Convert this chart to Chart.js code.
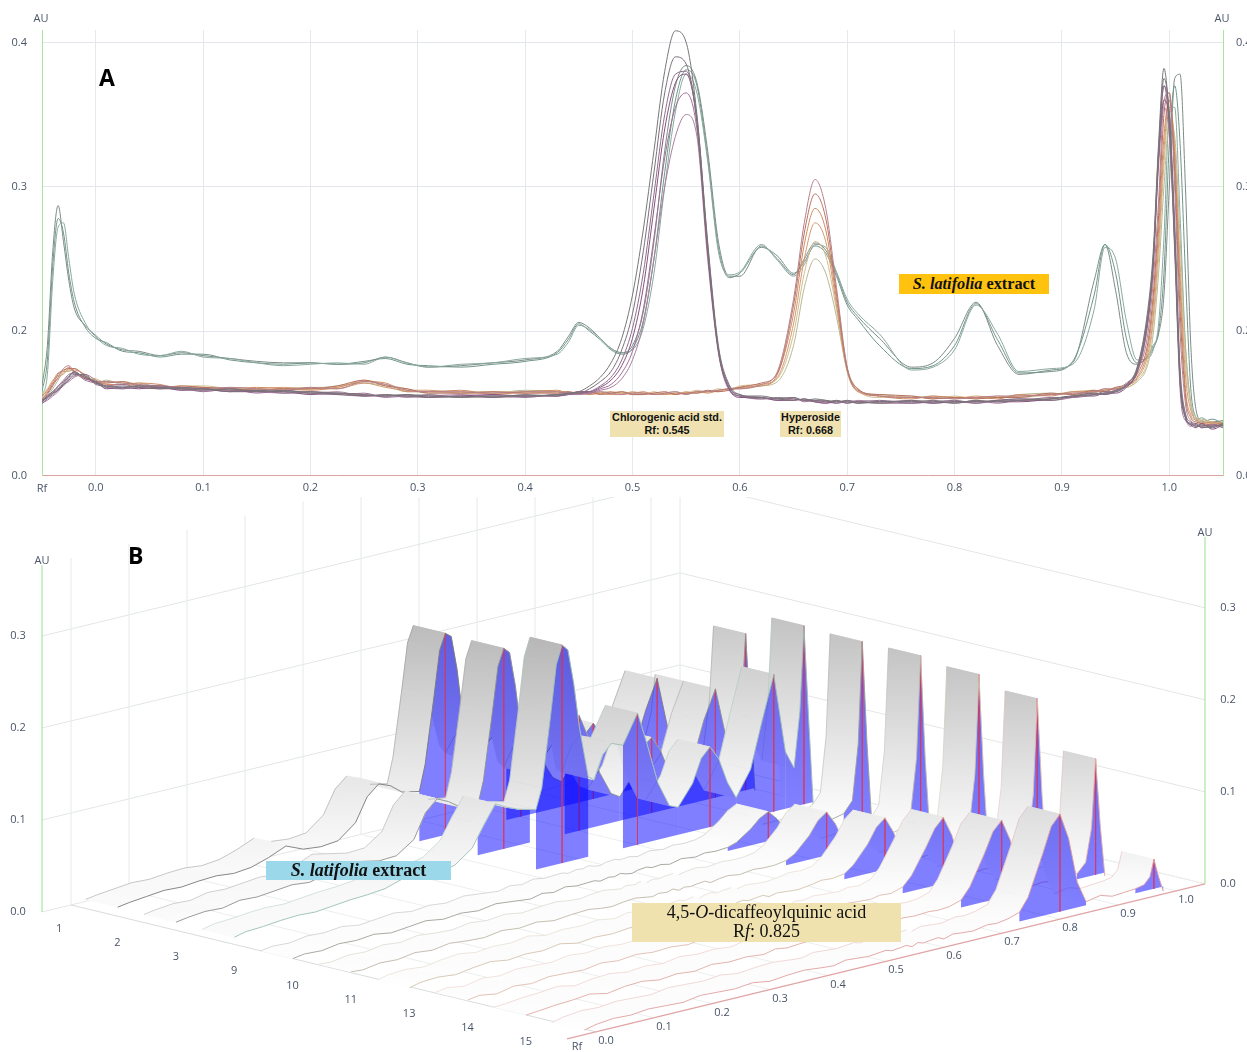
<!DOCTYPE html>
<html>
<head>
<meta charset="utf-8">
<script src="https://cdn.jsdelivr.net/npm/chart.js@4"></script>
<style>
  body { margin: 0; background: #fff; }
  #page { position: relative; width: 1247px; height: 1052px; overflow: hidden; background: #fff; }
  canvas { position: absolute; left: 0; }
  #chartA { top: 0; }
  #chartB { top: 497px; }
  .box { position: absolute; text-align: center; color: #111; }
  .serif { font-family: "Liberation Serif", serif; }
  .sans { font-family: "Liberation Sans", sans-serif; font-weight: bold; font-size: 10.8px; line-height: 13px; }
  .panel { position: absolute; font-family: "Open Sans", sans-serif; font-weight: bold; font-size: 23px; color: #000; }
</style>
</head>
<body>
<div id="page">
  <canvas id="chartA" width="1247" height="497"></canvas>
  <canvas id="chartB" width="1247" height="555"></canvas>
  <div class="panel" style="left:99px;top:61px">A</div>
  <div class="panel" style="left:128px;top:539px">B</div>
  <div class="box serif" style="left:899px;top:274px;width:150px;height:20px;line-height:20px;background:#ffc20e;font-size:16.3px;font-weight:bold"><i>S. latifolia</i> extract</div>
  <div class="box sans" style="left:610px;top:411px;width:114px;height:26px;background:#efe2b0">Chlorogenic acid std.<br>Rf: 0.545</div>
  <div class="box sans" style="left:780px;top:411px;width:61px;height:26px;background:#efe2b0">Hyperoside<br>Rf: 0.668</div>
  <div class="box serif" style="left:266px;top:861px;width:185px;height:19px;line-height:19px;background:#9bd9ea;font-size:18px;font-weight:bold"><i>S. latifolia</i> extract</div>
  <div class="box serif" style="left:632px;top:903px;width:269px;height:39px;line-height:19px;background:#f0e2ae;font-size:18px;box-sizing:border-box">4,5-<i>O</i>-dicaffeoylquinic acid<br>R<i>f</i>: 0.825</div>
</div>
<script>
// ---- panel A : densitogram overlay
const rfA = [-.05,-.045,-.04,-.035,-.03,-.025,-.02,-.01,0,.01,
  .025,.04,.06,.08,.1,.125,.15,.175,.2,.225,
  .25,.27,.29,.31,.34,.37,.4,.43,.44,.45,
  .46,.47,.48,.49,.5,.51,.52,.53,.54,.55,
  .56,.57,.58,.59,.6,.62,.635,.65,.66,.67,
  .68,.69,.7,.71,.73,.76,.78,.8,.82,.84,
  .86,.89,.91,.93,.94,.95,.96,.97,.98,.985,
  .99,.995,1,1.005,1.01,1.015,1.02,1.025,1.03,1.04,1.05];

// extract tracks
const e1 = [.162,.19,.255,.287,.262,.235,.216,.204,.197,.191,
  .187,.186,.183,.185,.183,.181,.179,.178,.178,.177,
  .178,.182,.178,.175,.176,.178,.18,.186,.196,.206,
  .202,.195,.188,.185,.19,.213,.262,.325,.37,.384,
  .372,.325,.262,.238,.238,.259,.25,.239,.25,.261,
  .256,.24,.22,.21,.195,.175,.178,.195,.22,.19,
  .17,.173,.178,.235,.26,.228,.185,.177,.183,.19,
  .198,.225,.3,.375,.378,.3,.19,.145,.138,.137,.138];
const e2 = [.158,.18,.245,.278,.268,.24,.22,.203,.195,.192,
  .186,.185,.182,.184,.184,.18,.178,.177,.178,.177,
  .179,.181,.177,.176,.175,.177,.179,.185,.194,.205,
  .2,.194,.187,.184,.188,.207,.25,.31,.36,.381,
  .37,.32,.258,.237,.24,.258,.252,.24,.248,.259,
  .254,.238,.218,.208,.19,.174,.176,.19,.219,.194,
  .171,.172,.179,.225,.26,.24,.195,.178,.182,.188,
  .2,.24,.33,.37,.33,.24,.16,.14,.137,.139,.136];
const e3 = [.155,.17,.235,.272,.275,.25,.226,.206,.196,.19,
  .188,.184,.183,.186,.182,.181,.178,.176,.177,.178,
  .177,.182,.178,.175,.177,.178,.181,.184,.192,.204,
  .201,.195,.188,.185,.187,.202,.24,.3,.352,.378,
  .365,.318,.255,.239,.241,.26,.249,.238,.246,.26,
  .258,.241,.222,.212,.198,.173,.175,.187,.218,.198,
  .172,.174,.177,.215,.258,.25,.207,.18,.181,.187,
  .205,.265,.35,.355,.28,.19,.15,.138,.14,.136,.137];

// chlorogenic acid standard tracks
const c1 = [.152,.155,.158,.161,.165,.169,.171,.168,.165,.162,
  .161,.162,.161,.16,.159,.16,.158,.159,.157,.157,
  .156,.155,.156,.155,.154,.155,.155,.156,.157,.158,
  .162,.168,.178,.195,.225,.27,.325,.38,.408,.4,
  .35,.262,.19,.163,.156,.154,.153,.154,.152,.153,
  .152,.151,.152,.15,.151,.151,.152,.15,.152,.151,
  .152,.153,.155,.156,.157,.158,.163,.175,.215,.255,
  .33,.382,.345,.26,.165,.14,.136,.134,.135,.133,.136];
const c2 = [.151,.154,.157,.16,.163,.167,.17,.169,.164,.161,
  .162,.161,.16,.161,.16,.158,.159,.158,.158,.156,
  .155,.156,.155,.154,.155,.154,.156,.155,.157,.157,
  .16,.165,.172,.187,.212,.255,.31,.365,.39,.385,
  .345,.258,.188,.162,.155,.155,.153,.152,.153,.151,
  .151,.152,.15,.151,.15,.152,.15,.151,.151,.152,
  .153,.152,.155,.157,.156,.159,.162,.173,.21,.25,
  .325,.375,.35,.27,.17,.142,.135,.136,.133,.134,.135];
const c3 = [.15,.153,.156,.159,.162,.166,.169,.17,.163,.162,
  .16,.162,.162,.16,.16,.159,.159,.157,.158,.157,
  .156,.155,.155,.156,.154,.155,.154,.156,.156,.157,
  .158,.162,.168,.18,.202,.24,.295,.35,.378,.38,
  .348,.26,.187,.161,.156,.153,.154,.153,.152,.152,
  .152,.15,.151,.151,.152,.15,.151,.152,.15,.152,
  .152,.154,.154,.156,.158,.158,.162,.172,.207,.248,
  .32,.37,.35,.275,.175,.143,.137,.135,.134,.135,.134];
const c4 = [.152,.154,.157,.159,.164,.168,.172,.167,.165,.16,
  .161,.16,.161,.159,.16,.158,.158,.158,.156,.157,
  .155,.155,.156,.154,.155,.156,.155,.155,.156,.158,
  .158,.161,.166,.176,.195,.23,.285,.34,.372,.378,
  .345,.255,.186,.16,.154,.154,.152,.152,.153,.151,
  .15,.151,.151,.15,.151,.151,.15,.151,.151,.151,
  .151,.153,.155,.155,.157,.157,.161,.172,.208,.246,
  .32,.36,.345,.265,.168,.14,.135,.133,.136,.132,.135];
const c5 = [.151,.155,.158,.162,.166,.17,.171,.166,.164,.162,
  .163,.161,.16,.16,.158,.16,.157,.159,.157,.156,
  .157,.154,.155,.155,.155,.154,.155,.156,.157,.157,
  .157,.16,.163,.171,.186,.215,.265,.32,.355,.365,
  .34,.255,.187,.16,.155,.153,.153,.154,.151,.152,
  .151,.15,.152,.151,.15,.15,.151,.15,.152,.15,
  .152,.152,.154,.157,.156,.158,.163,.174,.212,.25,
  .325,.37,.34,.255,.16,.138,.136,.134,.134,.135,.133];
const c6 = [.15,.152,.155,.158,.163,.165,.168,.17,.166,.161,
  .16,.161,.162,.159,.159,.159,.158,.157,.157,.158,
  .155,.156,.154,.155,.156,.155,.155,.155,.156,.156,
  .157,.159,.161,.167,.18,.205,.25,.3,.335,.35,
  .335,.25,.185,.159,.155,.154,.152,.153,.152,.151,
  .15,.152,.15,.152,.151,.152,.151,.151,.15,.152,
  .153,.153,.155,.156,.157,.159,.162,.171,.205,.245,
  .315,.355,.335,.26,.165,.14,.134,.135,.133,.134,.135];

// hyperoside tracks
const h1 = [.152,.156,.162,.168,.174,.176,.172,.168,.165,.165,
  .164,.163,.162,.161,.16,.161,.16,.159,.161,.16,
  .165,.163,.159,.158,.158,.157,.158,.158,.157,.158,
  .157,.158,.157,.156,.157,.157,.156,.157,.158,.156,
  .158,.158,.159,.16,.16,.163,.172,.222,.275,.305,
  .285,.23,.175,.16,.155,.154,.154,.153,.154,.155,
  .155,.156,.157,.158,.16,.16,.164,.172,.198,.235,
  .29,.36,.365,.3,.2,.15,.138,.136,.135,.134,.136];
const h2 = [.153,.157,.163,.17,.173,.174,.174,.169,.164,.164,
  .165,.162,.161,.162,.161,.16,.159,.16,.16,.162,
  .166,.162,.16,.157,.157,.158,.157,.157,.158,.157,
  .158,.156,.157,.158,.156,.156,.157,.158,.156,.157,
  .157,.159,.158,.159,.161,.164,.171,.218,.268,.295,
  .278,.226,.174,.159,.156,.155,.153,.154,.153,.154,
  .154,.157,.156,.159,.158,.161,.163,.17,.192,.225,
  .28,.35,.365,.31,.215,.155,.14,.137,.136,.135,.136];
const h3 = [.155,.159,.165,.171,.172,.175,.171,.167,.166,.163,
  .163,.164,.163,.16,.161,.16,.161,.16,.159,.161,
  .165,.164,.158,.158,.159,.156,.158,.159,.157,.157,
  .156,.157,.158,.157,.157,.158,.156,.156,.157,.157,
  .158,.157,.159,.16,.161,.162,.17,.212,.26,.285,
  .27,.222,.174,.16,.155,.153,.155,.154,.154,.153,
  .156,.155,.158,.158,.159,.16,.162,.168,.188,.218,
  .27,.335,.36,.32,.23,.16,.142,.138,.136,.137,.135];
const h4 = [.154,.158,.164,.167,.171,.173,.173,.17,.165,.165,
  .164,.162,.162,.161,.16,.159,.16,.161,.16,.16,
  .164,.161,.159,.159,.157,.157,.157,.158,.158,.156,
  .157,.157,.156,.156,.158,.157,.157,.157,.156,.158,
  .157,.158,.158,.16,.16,.163,.168,.205,.25,.275,
  .262,.218,.172,.158,.155,.154,.154,.153,.155,.154,
  .155,.156,.157,.157,.16,.159,.162,.167,.184,.21,
  .26,.325,.36,.325,.24,.17,.145,.139,.137,.136,.137];
const h5 = [.156,.16,.166,.169,.17,.174,.172,.168,.167,.164,
  .165,.163,.16,.162,.162,.16,.159,.16,.161,.161,
  .166,.163,.16,.157,.158,.158,.158,.157,.156,.158,
  .156,.158,.157,.157,.156,.156,.158,.156,.157,.157,
  .159,.158,.16,.159,.162,.163,.167,.198,.24,.262,
  .252,.215,.173,.159,.154,.155,.153,.155,.153,.155,
  .154,.156,.158,.159,.158,.161,.161,.166,.18,.205,
  .25,.315,.355,.33,.25,.18,.148,.14,.138,.137,.136];
const h6 = [.152,.155,.16,.166,.172,.172,.174,.169,.164,.166,
  .163,.164,.161,.161,.16,.161,.16,.159,.16,.162,
  .164,.162,.158,.158,.157,.157,.159,.158,.157,.157,
  .158,.157,.156,.158,.157,.157,.156,.157,.158,.156,
  .158,.158,.159,.16,.161,.162,.165,.19,.23,.25,
  .24,.21,.172,.158,.156,.154,.155,.154,.154,.154,
  .156,.157,.156,.158,.159,.16,.161,.165,.177,.198,
  .24,.3,.345,.335,.265,.19,.15,.14,.139,.137,.135];

const ticksRf = [0,.1,.2,.3,.4,.5,.6,.7,.8,.9,1];
const ticksAuA = [.1,.2,.3,.4];
const labelsAuA = ["0.0","0.2","0.3","0.4"];   // the axis really skips 0.1

// ---- panel B : 3D view
const rfB = [-.02,0,.03,.06,.09,.12,.15,.18,.21,.24,
  .27,.3,.33,.36,.39,.41,.43,.45,.47,.5,
  .51,.525,.535,.545,.555,.565,.575,.59,.6,.615,.63,.65,
  .675,.69,.71,.73,.745,.77,.785,.8,.815,.83,
  .845,.87,.89,.91,.93,.945,.955,.962,.97,.978];
const trackNames = ["1","2","3","9","10","11","13","14","15"];
const t1 = [.016,.018,.02,.022,.021,.023,.024,.022,.024,.03,
  .038,.03,.028,.03,.045,.07,.081,.076,.066,.062,
  .09,.16,.21,.227,.222,.185,.13,.09,.08,.095,.105,.102,
  .13,.105,.065,.042,.035,.055,.08,.09,.075,.05,
  .035,.05,.09,.122,.06,.045,.07,.11,.06,.004];
const t2 = [.015,.017,.019,.018,.022,.021,.023,.025,.023,.028,
  .036,.032,.028,.029,.042,.068,.08,.074,.065,.062,
  .088,.158,.208,.226,.22,.182,.13,.088,.08,.098,.11,.108,
  .133,.108,.066,.04,.034,.056,.082,.09,.074,.048,
  .033,.052,.095,.126,.065,.05,.1,.178,.09,.005];
const t3 = [.014,.017,.018,.02,.021,.02,.022,.024,.025,.027,
  .033,.028,.03,.034,.048,.07,.09,.083,.078,.073,
  .095,.17,.225,.245,.238,.2,.15,.095,.09,.115,.125,.12,
  .151,.118,.07,.042,.038,.06,.085,.095,.08,.052,
  .033,.06,.11,.157,.07,.05,.11,.202,.1,.005];
const t9 = [.006,.008,.007,.01,.009,.011,.008,.01,.012,.009,
  .011,.009,.012,.01,.008,.011,.009,.012,.01,.011,
  .009,.011,.01,.012,.01,.009,.011,.012,.01,.011,.009,.012,
  .01,.012,.011,.012,.015,.026,.035,.04,.03,.016,
  .011,.011,.012,.015,.018,.03,.09,.2,.09,.004];
const t10 = [.007,.006,.009,.008,.011,.009,.012,.01,.009,.012,
  .01,.012,.009,.011,.012,.01,.009,.011,.012,.009,
  .011,.01,.012,.009,.011,.01,.011,.012,.009,.011,.012,.01,
  .012,.011,.011,.013,.018,.034,.048,.055,.04,.018,
  .011,.012,.011,.014,.018,.032,.09,.2,.085,.004];
const t11 = [.005,.008,.009,.007,.01,.012,.009,.011,.01,.013,
  .009,.011,.01,.012,.009,.012,.011,.009,.01,.012,
  .01,.012,.009,.011,.012,.01,.011,.012,.009,.011,.01,.009,
  .011,.013,.012,.014,.021,.04,.056,.064,.046,.02,
  .011,.012,.012,.013,.017,.03,.088,.195,.085,.005];
const t13 = [.007,.009,.006,.01,.008,.011,.01,.009,.012,.01,
  .012,.01,.011,.009,.012,.011,.01,.012,.009,.011,
  .012,.009,.011,.01,.012,.011,.012,.009,.011,.01,.012,.011,
  .01,.012,.011,.015,.025,.052,.07,.08,.058,.024,
  .011,.013,.011,.014,.016,.028,.08,.184,.08,.004];
const t14 = [.006,.007,.009,.01,.012,.008,.011,.012,.009,.011,
  .009,.012,.01,.011,.009,.012,.01,.011,.012,.01,
  .011,.01,.009,.012,.011,.009,.011,.012,.009,.01,.012,.011,
  .012,.011,.012,.016,.028,.06,.082,.092,.068,.028,
  .012,.014,.012,.013,.014,.024,.06,.134,.06,.004];
const t15 = [.005,.008,.01,.009,.011,.01,.009,.012,.011,.01,
  .012,.009,.011,.012,.01,.009,.012,.011,.01,.012,
  .01,.011,.012,.009,.012,.01,.011,.012,.009,.012,.011,.01,
  .013,.012,.014,.018,.032,.075,.103,.114,.085,.035,
  .012,.015,.011,.012,.013,.015,.022,.04,.02,.003];
const tracksB = [t1, t2, t3, t9, t10, t11, t13, t14, t15];

// integration windows (Rf from, Rf to) of the blue peak areas
const windowsExtract = [[.5,.59],[.65,.745],[.745,.845],[.845,.93],[.93,.978]];
const windowsStd = [[.73,.845],[.93,.978]];
const areaBase = 0.008;
const ticksAuB = [0,.1,.2,.3];

const coloursA = {
  e1:"#7d8a86", e2:"#6f9488", e3:"#8aa89e",
  c1:"#777777", c2:"#7b6f7a", c3:"#8c6f8a", c4:"#86507f", c5:"#a06f98", c6:"#aa7f9e",
  h1:"#b5808c", h2:"#b8705e", h3:"#cf8a60", h4:"#d29a70", h5:"#d2bd90", h6:"#b8b894"
};
const edgeB = ["#7a7a7a","#8c928e","#9cc0b4","#a0a098","#c0b8a8","#d4c4b0","#e0bcb0","#e0aca4","#e0a0a0"];

Chart.defaults.font.family = '"Open Sans", sans-serif';
Chart.defaults.font.size = 11;
Chart.defaults.color = "#4a5568";

function seriesA(key, values) {
  return { data: values.map((v, i) => ({ x: rfA[i], y: v })), borderColor: coloursA[key],
    borderWidth: 1, pointRadius: 0, cubicInterpolationMode: "monotone", fill: false };
}

function textPlugin(id, draw) {
  return { id: id, afterDraw(chart) {
    const c = chart.ctx;
    c.save();
    c.font = '11px "Open Sans", sans-serif';
    c.fillStyle = "#4a5568";
    c.textAlign = "center";
    c.textBaseline = "middle";
    draw(c, chart);
    c.restore();
  } };
}

const datasetsA = [["e1",e1],["e2",e2],["e3",e3],["h6",h6],["h5",h5],["h4",h4],["h3",h3],["h2",h2],["h1",h1],
  ["c6",c6],["c5",c5],["c4",c4],["c3",c3],["c2",c2],["c1",c1]]
  .map((p, i) => Object.assign(seriesA(p[0], p[1]), { order: -i }));

new Chart("chartA", {
  type: "line",
  data: { datasets: datasetsA },
  options: {
    responsive: false, animation: false, events: [],
    layout: { padding: { top: 30 } },
    plugins: { legend: { display: false }, tooltip: { enabled: false } },
    scales: {
      x: { type: "linear", min: -0.05, max: 1.05,
        afterBuildTicks: s => { s.ticks = ticksRf.map(v => ({ value: v })); },
        afterFit: s => { s.height = 20.5; },
        grid: { color: "#e4eaea", drawTicks: false },
        border: { color: "#dca0a0" },
        ticks: { padding: 6, maxRotation: 0, autoSkip: false, callback: v => v.toFixed(1) } },
      y: { min: 0.1, max: 0.4086,
        afterBuildTicks: s => { s.ticks = ticksAuA.map(v => ({ value: v })); },
        afterFit: s => { s.width = 42; },
        grid: { color: "#e4e8ee", drawTicks: false },
        border: { color: "#a8e4a0" },
        ticks: { padding: 15, callback: (v, i) => labelsAuA[i] } },
      y2: { position: "right", min: 0.1, max: 0.4086,
        afterBuildTicks: s => { s.ticks = ticksAuA.map(v => ({ value: v })); },
        afterFit: s => { s.width = 24; },
        grid: { display: false, drawTicks: false },
        border: { color: "#a8e4a0" },
        ticks: { padding: 13, callback: (v, i) => labelsAuA[i] } }
    }
  },
  plugins: [textPlugin("namesA", (c, chart) => {
    const a = chart.chartArea;
    c.fillText("AU", a.left - 1, 19);
    c.fillText("AU", a.right - 1, 19);
    c.fillText("Rf", a.left, a.bottom + 13);
  })]
});

// oblique projection of (Rf, track position, AU) on the flat scales of chart B
function proj(rf, t, au) {
  return { x: 42 + (rf + 0.05) * 580 + t * 58.33, y: 912 - (rf + 0.05) * 141 + t * 14.1 - au * 920 };
}

function lineB(points, colour, width) {
  return { data: points, borderColor: colour, borderWidth: width || 1, pointRadius: 0, fill: false };
}
function shapeB(points, colour, edge) {
  return { data: points, backgroundColor: colour, borderColor: edge || colour, borderWidth: edge ? 0.7 : 0, pointRadius: 0, fill: "shape" };
}

const datasetsB = [];
function add(ds) { ds.order = -datasetsB.length; datasetsB.push(ds); }

// grey of the ribbon depends on the height above the floor
function greyOf(au) {
  const g = Math.round(255 - Math.min(au, 0.26) * 290);
  return "rgb(" + g + "," + g + "," + g + ")";
}
function quadShade(yA, auA, yB, auB) {
  let cached = null;
  return ctx => {
    if (!ctx.chart.chartArea) return "#fff";
    if (Math.abs(yA - yB) < 1) return greyOf((auA + auB) / 2);
    if (!cached) {
      const s = ctx.chart.scales.y;
      cached = ctx.chart.ctx.createLinearGradient(0, s.getPixelForValue(yA), 0, s.getPixelForValue(yB));
      cached.addColorStop(0, greyOf(auA));
      cached.addColorStop(1, greyOf(auB));
    }
    return cached;
  };
}

// walls and floor
ticksAuB.forEach(au => {
  add(lineB([proj(-0.05,0,au), proj(1.05,0,au), proj(1.05,9,au)], "#e4e6e6"));
});
ticksRf.concat([1.05]).forEach(rf => {
  add(lineB([proj(rf,0,0), proj(rf,0,0.377)], "#e4eaec"));
  add(lineB([proj(rf,0,0), proj(rf,9,0)], rf === 0 ? "#d8dcdc" : "#eceeee"));
});
add(lineB([proj(-0.05,0,0), proj(-0.05,0,0.377)], "#a8e4a0", 1.2));
add(lineB([proj(1.05,9,0), proj(1.05,9,0.377)], "#a8e4a0", 1.2));
add(lineB([proj(-0.05,9,0), proj(1.05,9,0)], "#e0a4a4", 1.2));

// one ribbon per track, from the back of the plate to the front, then its blue areas
tracksB.forEach((values, i) => {
  const front = i + 1, back = i + 0.45;
  const frontEdge = values.map((v, k) => proj(rfB[k], front, v));
  const backEdge = values.map((v, k) => proj(rfB[k], back, v));
  for (let k = values.length - 2; k >= 0; k--) {
    const shade = quadShade((frontEdge[k].y + backEdge[k].y) / 2, values[k],
      (frontEdge[k + 1].y + backEdge[k + 1].y) / 2, values[k + 1]);
    add(shapeB([frontEdge[k], frontEdge[k + 1], backEdge[k + 1], backEdge[k], frontEdge[k]], shade, shade));
  }
  // back edge only shows where it is the outline of the ribbon, not on the falling side
  const outline = lineB(backEdge, edgeB[i] + "80", 0.8);
  outline.segment = { borderColor: c => c.p1.parsed.y > c.p0.parsed.y + 1 ? "rgba(0,0,0,0)" : undefined };
  add(outline);
  const windows = i < 3 ? windowsExtract : windowsStd;
  windows.forEach(w => {
    const idx = rfB.map((r, k) => k).filter(k => rfB[k] >= w[0] && rfB[k] <= w[1]);
    const top = idx.map(k => proj(rfB[k], front, values[k]));
    add(shapeB(top.concat([proj(w[1], front, areaBase), proj(w[0], front, areaBase)]), "rgba(0,0,255,0.5)"));
    const best = idx.reduce((a, k) => values[k] > values[a] ? k : a, idx[0]);
    add(lineB([proj(rfB[best], front, values[best]), proj(rfB[best], front, areaBase)], "rgba(225,50,80,0.75)", 0.8));
  });
  add(lineB(frontEdge, edgeB[i], 0.9));
});

new Chart("chartB", {
  type: "line",
  data: { datasets: datasetsB },
  options: {
    responsive: false, animation: false, events: [],
    plugins: { legend: { display: false }, tooltip: { enabled: false } },
    scales: {
      x: { type: "linear", display: false, min: 0, max: 1247 },
      y: { display: false, min: 497, max: 1052, reverse: true }
    }
  },
  plugins: [textPlugin("namesB", (c, chart) => {
    const sx = chart.scales.x, sy = chart.scales.y;
    const put = (text, p, dx, dy) => c.fillText(text, sx.getPixelForValue(p.x + dx), sy.getPixelForValue(p.y + dy));
    ticksRf.forEach(rf => put(rf.toFixed(1), proj(rf,9,0), 10, 9));
    trackNames.forEach((n, i) => put(n, proj(-0.05,i + 0.5,0), -12, 10));
    ticksAuB.forEach(au => {
      put(au.toFixed(1), proj(-0.05,0,au), -24, 0);
      put(au.toFixed(1), proj(1.05,9,au), 23, 0);
    });
    put("AU", proj(-0.05,0,0.377), 0, -4);
    put("AU", proj(1.05,9,0.377), 0, -4);
    put("Rf", proj(-0.05,9,0), 10, 8);
  })]
});
</script>
</body>
</html>
